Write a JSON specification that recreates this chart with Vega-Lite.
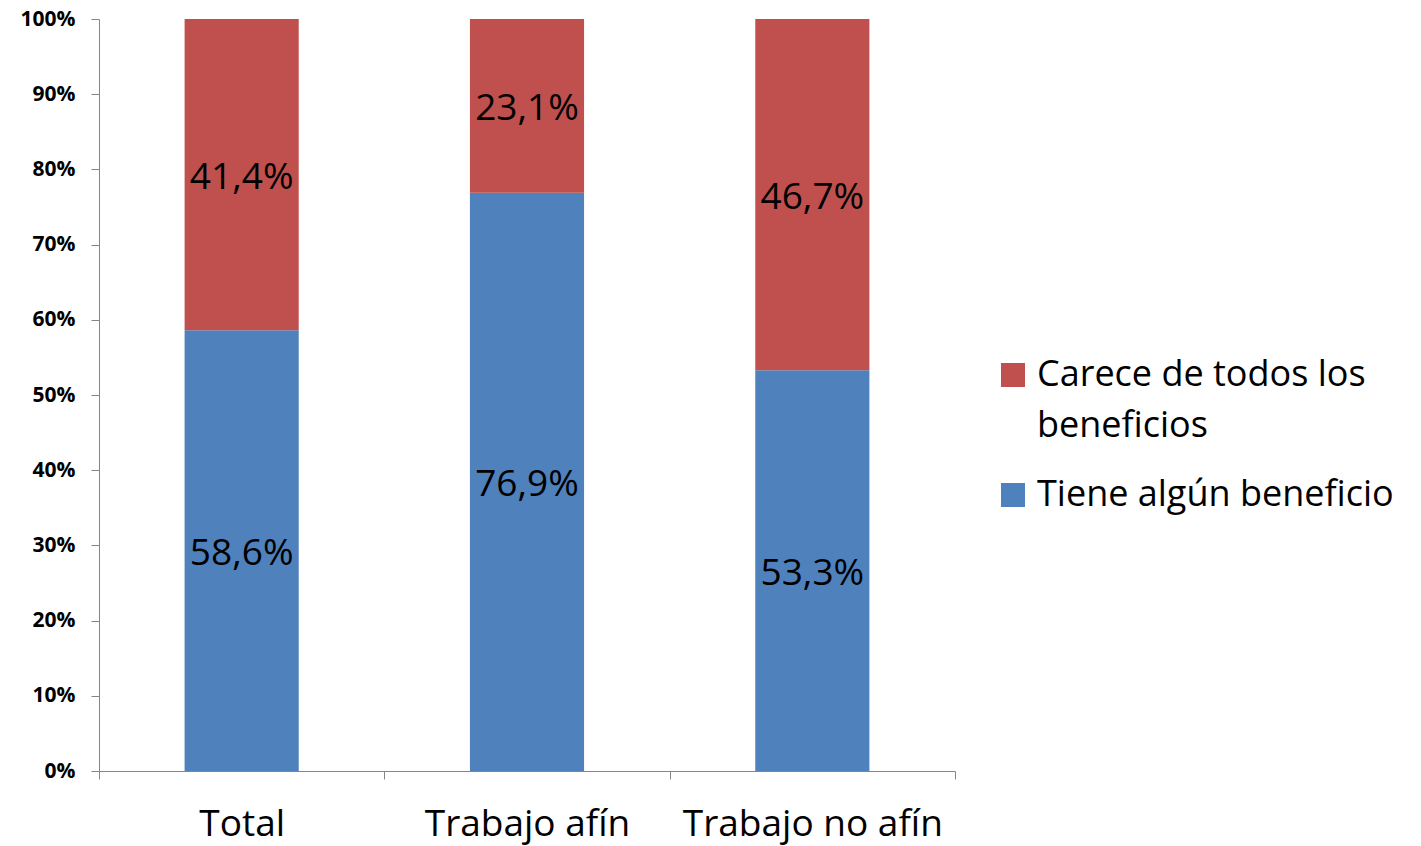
{
  "$schema": "https://vega.github.io/schema/vega-lite/v6.json",
  "width": 856,
  "height": 752,
  "autosize": "none",
  "padding": {"left": 99, "top": 19, "right": 466, "bottom": 75},
  "background": "white",
  "config": {
    "view": {"stroke": null},
    "locale": {"number": {"decimal": ",", "thousands": ".", "grouping": [3], "currency": ["", " €"]}},
    "font": "Open Sans"
  },
  "data": {
    "values": [
      {"categoria": "Total", "grupo": "Tiene algún beneficio", "valor": 0.586, "orden": 1},
      {"categoria": "Total", "grupo": "Carece de todos los beneficios", "valor": 0.414, "orden": 2},
      {"categoria": "Trabajo afín", "grupo": "Tiene algún beneficio", "valor": 0.769, "orden": 1},
      {"categoria": "Trabajo afín", "grupo": "Carece de todos los beneficios", "valor": 0.231, "orden": 2},
      {"categoria": "Trabajo no afín", "grupo": "Tiene algún beneficio", "valor": 0.533, "orden": 1},
      {"categoria": "Trabajo no afín", "grupo": "Carece de todos los beneficios", "valor": 0.467, "orden": 2}
    ]
  },
  "encoding": {
    "x": {
      "field": "categoria", "type": "nominal", "sort": null,
      "scale": {"paddingInner": 0, "paddingOuter": 0},
      "axis": {
        "title": null, "labelAngle": 0, "labelFontSize": 37, "labelColor": "black", "labelLimit": 400,
        "tickBand": "extent", "tickSize": 8, "tickColor": "#868686", "domainColor": "#868686",
        "labelPadding": 27, "grid": false
      }
    },
    "y": {
      "field": "valor", "type": "quantitative", "stack": "zero",
      "scale": {"domain": [0, 1], "nice": false},
      "axis": {
        "title": null, "format": ".0%", "values": [0, 0.1, 0.2, 0.3, 0.4, 0.5, 0.6, 0.7, 0.8, 0.9, 1],
        "labelFontSize": 21, "labelFontWeight": "bold", "labelColor": "black",
        "tickSize": 8, "tickColor": "#868686", "domainColor": "#868686", "labelPadding": 16, "grid": false
      }
    },
    "order": {"field": "orden", "type": "quantitative"}
  },
  "layer": [
    {
      "mark": {"type": "bar", "width": {"band": 0.4}},
      "encoding": {
        "color": {
          "field": "grupo", "type": "nominal",
          "scale": {"domain": ["Carece de todos los beneficios", "Tiene algún beneficio"], "range": ["#C0504D", "#4F81BD"]},
          "legend": {
            "title": null, "orient": "none", "legendX": 896, "legendY": 338,
            "symbolType": "square", "symbolSize": 576, "symbolStrokeWidth": 0,
            "labelFontSize": 36, "labelColor": "black", "labelLimit": 500, "rowPadding": 33,
            "labelOffset": 6,
            "labelExpr": "datum.label == 'Carece de todos los beneficios' ? ['Carece de todos los', 'beneficios'] : datum.label",
            "encode": {"labels": {"update": {"lineHeight": {"value": 51}}}}
          }
        }
      }
    },
    {
      "mark": {"type": "text", "fontSize": 37, "color": "black", "dy": 3},
      "encoding": {
        "y": {"field": "valor", "type": "quantitative", "stack": "zero", "bandPosition": 0.5},
        "text": {"field": "valor", "type": "quantitative", "format": ".1%"}
      }
    }
  ]
}
